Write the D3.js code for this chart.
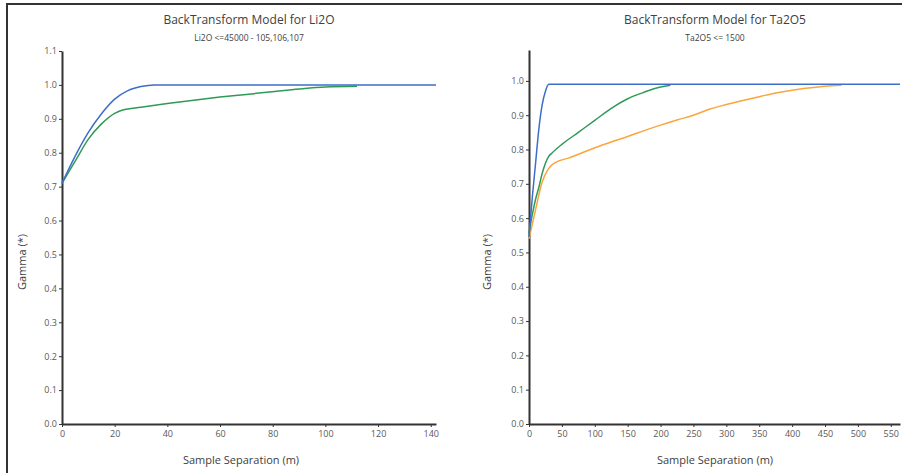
<!DOCTYPE html>
<html>
<head>
<meta charset="utf-8">
<script src="https://cdn.jsdelivr.net/npm/d3@7"></script>
<style>
  body { margin: 0; background: #fff; }
  text { font-family: "Open Sans", sans-serif; }
</style>
</head>
<body>
<script>
// Li2O model curves (separation m, gamma)
var li2oBlue = [[0,0.71],[5,0.79],[10,0.86],[15,0.915],[20,0.958],[25,0.983],[30,0.995],[35,1.0],[142,1.0]];
var li2oGreen = [[0,0.71],[5,0.775],[10,0.84],[15,0.885],[20,0.916],[23,0.926],[30,0.934],[40,0.945],[50,0.955],[60,0.964],[70,0.972],[80,0.98],[90,0.988],[100,0.994],[112,0.996]];

// Ta2O5 model curves
var ta2o5Blue = [[0,0.545],[5,0.66],[10,0.76],[15,0.86],[20,0.93],[25,0.97],[30,0.99],[564,0.99]];
var ta2o5Green = [[0,0.557],[5,0.61],[10,0.655],[15,0.69],[20,0.73],[25,0.76],[30,0.78],[35,0.79],[50,0.815],[75,0.85],[100,0.885],[125,0.92],[150,0.948],[175,0.967],[200,0.982],[215,0.987]];
var ta2o5Orange = [[0,0.54],[10,0.625],[20,0.705],[30,0.745],[40,0.762],[60,0.775],[80,0.79],[100,0.805],[125,0.822],[150,0.838],[175,0.855],[200,0.871],[225,0.886],[250,0.9],[275,0.918],[300,0.931],[325,0.943],[350,0.954],[375,0.965],[400,0.973],[425,0.979],[450,0.984],[475,0.987]];

var leftXTicks = [0,20,40,60,80,100,120,140];
var rightXTicks = [0,50,100,150,200,250,300,350,400,450,500,550];
var leftYTicks = [0,0.1,0.2,0.3,0.4,0.5,0.6,0.7,0.8,0.9,1.0,1.1];
var rightYTicks = [0,0.1,0.2,0.3,0.4,0.5,0.6,0.7,0.8,0.9,1.0];

var blue = "#3d6ec9", green = "#2f9a55", orange = "#fba53c";

var svg = d3.select("body").append("svg")
  .attr("width", 902)
  .attr("height", 473);

// panel frame
svg.append("path")
  .attr("d", "M7,473 L7,4 L902,4")
  .attr("fill", "none")
  .attr("stroke", "#333")
  .attr("stroke-width", 2);

function drawChart(opt) {
  var x = d3.scaleLinear().domain(opt.xDomain).range([opt.left, opt.right]);
  var y = d3.scaleLinear().domain(opt.yDomain).range([424, opt.top]);

  var g = svg.append("g");

  g.append("text")
    .attr("x", opt.titleX).attr("y", 24)
    .attr("text-anchor", "middle")
    .attr("font-size", 12)
    .attr("fill", "#404040")
    .text(opt.title);

  g.append("text")
    .attr("x", opt.titleX).attr("y", 41)
    .attr("text-anchor", "middle")
    .attr("font-size", 8.5)
    .attr("fill", "#404040")
    .text(opt.subtitle);

  var xAxis = g.append("g")
    .attr("transform", "translate(0,424)")
    .call(d3.axisBottom(x).tickValues(opt.xTicks).tickSize(3).tickSizeOuter(0).tickFormat(d3.format("d")));
  var yAxis = g.append("g")
    .attr("transform", "translate(" + opt.left + ",0)")
    .call(d3.axisLeft(y).tickValues(opt.yTicks).tickSize(3).tickSizeOuter(0).tickFormat(d3.format(".1f")));

  [xAxis, yAxis].forEach(function(a) {
    a.select(".domain").attr("stroke", "#333").attr("stroke-width", 2);
    a.selectAll(".tick line").attr("stroke", "#333");
    a.selectAll(".tick text")
      .attr("fill", "#595959")
      .attr("font-size", 9)
      .attr("font-family", "Open Sans, sans-serif");
  });
  yAxis.selectAll(".tick text").attr("x", -5);
  xAxis.selectAll(".tick text").attr("y", 7);

  g.append("text")
    .attr("x", opt.xTitleX).attr("y", 464)
    .attr("text-anchor", "middle")
    .attr("font-size", 11)
    .attr("fill", "#404040")
    .text("Sample Separation (m)");

  g.append("text")
    .attr("transform", "translate(" + opt.yTitleX + ",262) rotate(-90)")
    .attr("text-anchor", "middle")
    .attr("font-size", 11)
    .attr("fill", "#404040")
    .text("Gamma (*)");

  var line = d3.line()
    .x(function(d) { return x(d[0]); })
    .y(function(d) { return y(d[1]); })
    .curve(d3.curveMonotoneX);

  opt.series.forEach(function(s) {
    g.append("path")
      .datum(s.data)
      .attr("fill", "none")
      .attr("stroke", s.color)
      .attr("stroke-width", 1.5)
      .attr("d", line);
  });
}

drawChart({
  title: "BackTransform Model for Li2O",
  subtitle: "Li2O <=45000 - 105,106,107",
  titleX: 249, xTitleX: 241, yTitleX: 26,
  left: 62, right: 436, top: 51,
  xDomain: [0, 142], yDomain: [0, 1.1],
  xTicks: leftXTicks, yTicks: leftYTicks,
  series: [{data: li2oGreen, color: green}, {data: li2oBlue, color: blue}]
});

drawChart({
  title: "BackTransform Model for Ta2O5",
  subtitle: "Ta2O5 <= 1500",
  titleX: 715, xTitleX: 715, yTitleX: 491,
  left: 529, right: 900, top: 50,
  xDomain: [0, 564], yDomain: [0, 1.09],
  xTicks: rightXTicks, yTicks: rightYTicks,
  series: [{data: ta2o5Orange, color: orange}, {data: ta2o5Green, color: green}, {data: ta2o5Blue, color: blue}]
});
</script>
</body>
</html>
